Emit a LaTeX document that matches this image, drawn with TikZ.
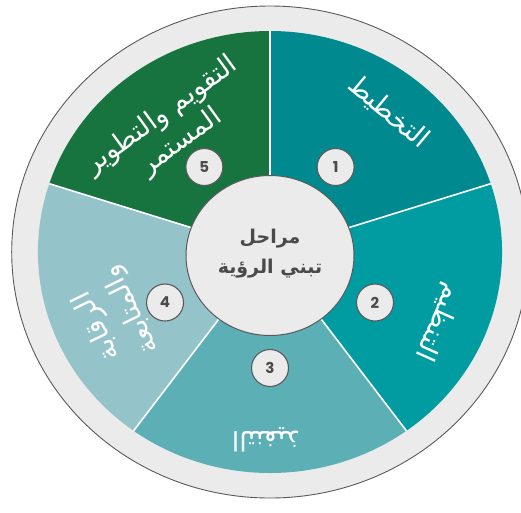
\documentclass[tikz,border=0pt]{standalone}
\usepackage{fontspec}
\usepackage{xcolor}
\usepackage{tikz}
\TeXXeTstate=1
\newfontfamily\arabicfont[Script=Arabic]{DejaVu Sans}
\newfontfamily\digitfont{Poppins}

\definecolor{ringgray}{HTML}{EBEBEB}
\definecolor{edgegray}{HTML}{5A5A5A}
\definecolor{segA}{HTML}{00898E}
\definecolor{segB}{HTML}{009CA1}
\definecolor{segC}{HTML}{5BAFB5}
\definecolor{segD}{HTML}{94C4C9}
\definecolor{segE}{HTML}{18743F}
\definecolor{inkgray}{HTML}{4A4A4A}

\tikzset{
  numbadge/.style={circle, draw=edgegray, line width=1.1pt, fill=ringgray,
    minimum size=37pt, inner sep=0pt, text=inkgray,
    font=\digitfont\bfseries\fontsize{15}{15}\selectfont},
  seglabel/.style={text=white, align=center, inner sep=0pt,
    font=\arabicfont\fontsize{27}{33}\selectfont},
  hublabel/.style={text=inkgray, align=center, inner sep=0pt,
    font=\arabicfont\bfseries\fontsize{19}{30}\selectfont},
  divider/.style={white, line width=1.6pt}
}

\begin{document}
\begin{tikzpicture}[x=1.05pt, y=1pt]
\useasboundingbox (-270pt,-260pt) rectangle (251pt,252pt);

%% Ring %%
\draw[edgegray, fill=ringgray, line width=0.9pt] (0,0) circle (246);

%% Segments %%
\fill[segA] (0,0) -- (90:221) arc[start angle=90, end angle=18, radius=221] -- cycle;
\fill[segB] (0,0) -- (18:221) arc[start angle=18, end angle=-54, radius=221] -- cycle;
\fill[segC] (0,0) -- (-54:221) arc[start angle=-54, end angle=-126, radius=221] -- cycle;
\fill[segD] (0,0) -- (-126:221) arc[start angle=-126, end angle=-198, radius=221] -- cycle;
\fill[segE] (0,0) -- (162:221) arc[start angle=162, end angle=90, radius=221] -- cycle;

\draw[divider] (0,0) -- (90:221);
\draw[divider] (0,0) -- (18:221);
\draw[divider] (0,0) -- (-54:221);
\draw[divider] (0,0) -- (-126:221);
\draw[divider] (0,0) -- (162:221);

%% Hub %%
\draw[edgegray, fill=ringgray, line width=1pt] (0,-3.5) circle (80);
\node[hublabel] (hub) at (0,-2) {\beginR مراحل\endR\\\beginR تبني الرؤية\endR};

%% Labels %%
\node[seglabel, rotate=-40] (lbl1) at (113,140) {\beginR التخطيط\endR};
\node[seglabel, rotate=-114] (lbl2) at (160,-70) {\beginR التنظيم\endR};
\node[seglabel, rotate=180] (lbl3) at (-4,-188) {\beginR التنفيذ\endR};
\node[seglabel, rotate=116, font=\arabicfont\fontsize{27}{38}\selectfont] (lbl4) at (-148,-66) {\beginR الرقابة\endR\\\beginR والمتابعة\endR};
\node[seglabel, rotate=36] (lbl5) at (-94,123) {\beginR التقويم والتطوير\endR\\\beginR المستمر\endR};

%% Numbers %%
\node[numbadge] (num1) at (62.5,85) {1};
\node[numbadge] (num2) at (100,-50.5) {2};
\node[numbadge] (num3) at (0,-116) {3};
\node[numbadge] (num4) at (-100,-50.5) {4};
\node[numbadge] (num5) at (-62.5,85) {5};

\end{tikzpicture}
\end{document}
